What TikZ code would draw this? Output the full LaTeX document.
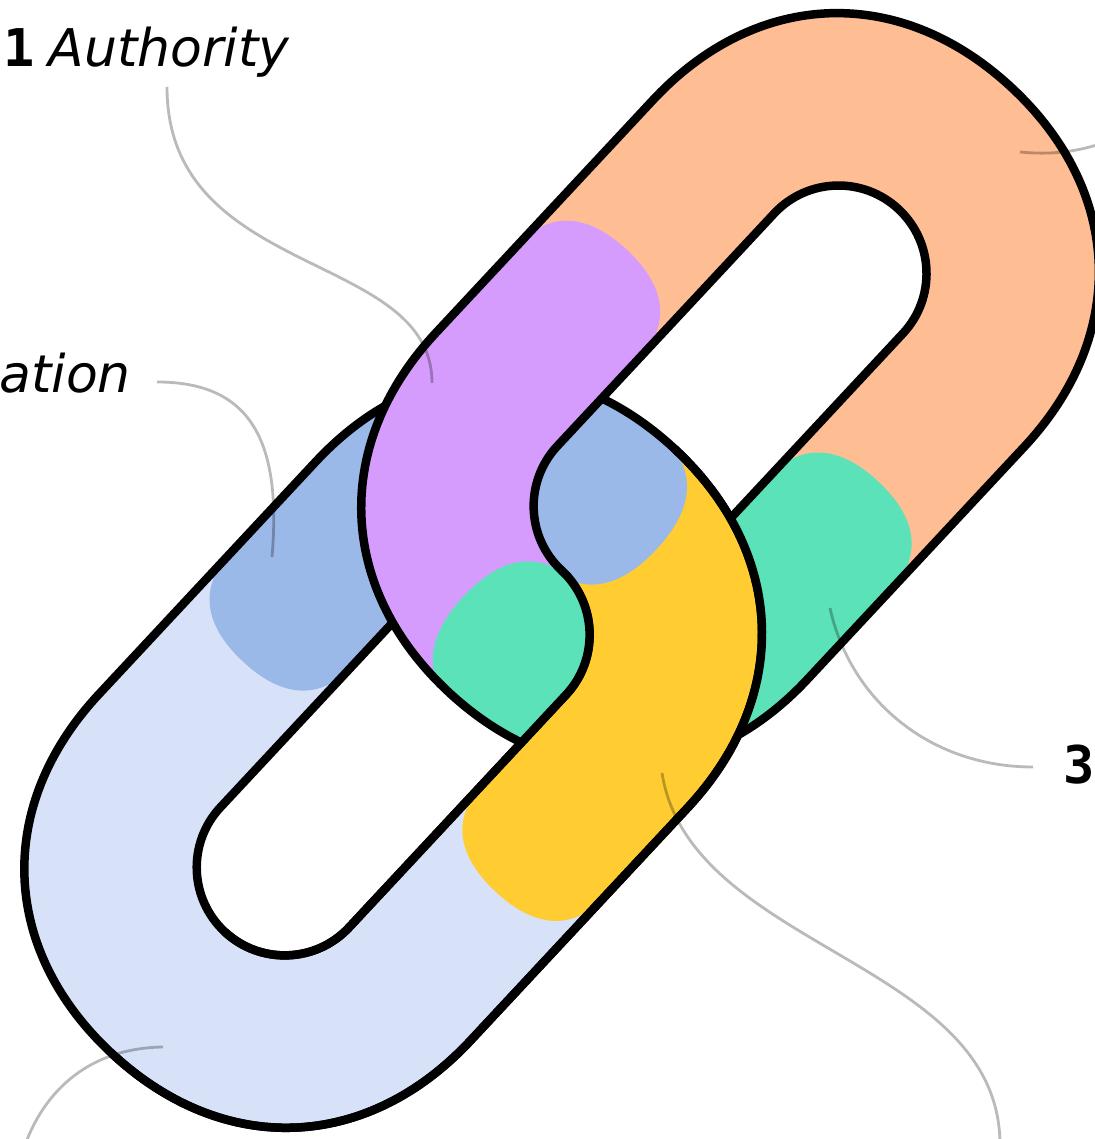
\documentclass[tikz,border=0pt]{standalone}
\usepackage{fontspec}
\newfontfamily\tagfont{DejaVu Sans}[ItalicFont={DejaVu Sans Oblique}]
\newfontfamily\numfont{DejaVu Sans Mono}[BoldFont={DejaVu Sans Mono Bold}]
\usepackage{tikz}
\usetikzlibrary{positioning}

\definecolor{linklight}{HTML}{D7E2F9}
\definecolor{linkblue}{HTML}{9BB9E8}
\definecolor{linkyellow}{HTML}{FFCD32}
\definecolor{linkorange}{HTML}{FFBD94}
\definecolor{linkpurple}{HTML}{D59CFD}
\definecolor{linkgreen}{HTML}{5CE2B8}

\tikzset{
	outline/.style={draw=black, line width=8.5pt, line join=round},
	leader/.style={draw=black, opacity=0.27, line width=2.8pt},
	tag/.style={font=\tagfont\fontsize{52}{60}\selectfont\itshape, inner sep=0pt},
	num/.style={font=\numfont\fontsize{52}{60}\selectfont\bfseries, inner sep=0pt}
}

% rounded bar from #1 to #2 along the chain, half width #3, corner handle #4
\newcommand{\capsule}[4]{(#1,0) .. controls (#1,-#4) and (#1+#3-#4,-#3) .. (#1+#3,-#3)
	-- (#2-#3,-#3) .. controls (#2-#3+#4,-#3) and (#2,-#4) .. (#2,0)
	.. controls (#2,#4) and (#2-#3+#4,#3) .. (#2-#3,#3)
	-- (#1+#3,#3) .. controls (#1+#3-#4,#3) and (#1,#4) .. (#1,0) -- cycle}
\newcommand{\capsuleback}[4]{(#1,0) .. controls (#1,#4) and (#1+#3-#4,#3) .. (#1+#3,#3)
	-- (#2-#3,#3) .. controls (#2-#3+#4,#3) and (#2,#4) .. (#2,0)
	.. controls (#2,-#4) and (#2-#3+#4,-#3) .. (#2-#3,-#3)
	-- (#1+#3,-#3) .. controls (#1+#3-#4,-#3) and (#1,-#4) .. (#1,0) -- cycle}

\newcommand{\upperlink}{%
	\begin{scope}[even odd rule]
		\clip \capsule{-200}{626}{254}{152.4} \capsuleback{-34}{460}{88}{48.6};
		\fill [linkorange] (-300,-300) rectangle (700,300);
		\fill [linkpurple] (175,254) .. controls (220.5,254) and (245,225) .. (245,171)
			.. controls (245,117) and (220.5,88) .. (175,88)
			-- (100,88) -- (100,-254) -- (-300,-254) -- (-300,300) -- (175,300) -- cycle;
		\fill [linkgreen] (177,-254) .. controls (222.5,-254) and (247,-225) .. (247,-171)
			.. controls (247,-117) and (222.5,-88) .. (177,-88)
			-- (-34,-88) -- (-34,-16) .. controls (-34,29.5) and (-64.1,54) .. (-120,54)
			.. controls (-175.9,54) and (-206,29.5) .. (-206,-16)
			-- (-206,-300) -- (177,-300) -- cycle;
	\end{scope}
	\draw [outline] \capsule{-200}{626}{254}{152.4} \capsule{-34}{460}{88}{48.6};
}
\newcommand{\lowerlink}{%
	\begin{scope}[even odd rule]
		\clip \capsule{-694}{132}{254}{152.4} \capsuleback{-528}{-34}{88}{48.6};
		\fill [linklight] (-800,-300) rectangle (200,300);
		\fill [linkyellow] (-244,-254) .. controls (-289.5,-254) and (-314,-225) .. (-314,-171)
			.. controls (-314,-117) and (-289.5,-88) .. (-244,-88)
			-- (-160,-88) -- (-160,300) -- (300,300) -- (300,-254) -- cycle;
		\fill [linkblue] (-248,254) .. controls (-293.5,254) and (-318,225) .. (-318,171)
			.. controls (-318,117) and (-293.5,88) .. (-248,88)
			-- (-40,88) -- (-40,15) .. controls (-40,-30.5) and (-9.9,-55) .. (46,-55)
			.. controls (101.9,-55) and (132,-30.5) .. (132,15)
			-- (132,300) -- (-248,300) -- cycle;
	\end{scope}
	\draw [outline] \capsule{-694}{132}{254}{152.4} \capsule{-528}{-34}{88}{48.6};
}

\begin{document}
\begin{tikzpicture}[x=1pt, y=1pt]
	\useasboundingbox (0,0) rectangle (1094,1139);
	\fill [white] (0,0) rectangle (1094,1139);

	\begin{scope}[shift={(584.8,593.4)}, rotate=47]
		\lowerlink
		% upper link: in front on its upper-left side, elsewhere only outside the lower one
		\begin{scope}
			\clip (-2000,0) -- (2000,0) -- (2000,2000) -- (-2000,2000) -- cycle
				\capsule{-526}{-36}{86}{47.5}
				(-2000,-2000) -- (2000,-2000) -- (2000,2000) -- (-2000,2000) -- cycle
				\capsuleback{-696}{134}{256}{153.6};
			\upperlink
		\end{scope}
		\begin{scope}
			\clip (-2000,-2000) rectangle (2000,0);
			\draw [outline] \capsule{-694}{132}{254}{152.4} \capsule{-528}{-34}{88}{48.6};
		\end{scope}
	\end{scope}

	\node (num1) [num, anchor=base west] at (3,1072) {1};
	\node (authority) [tag, base right=14pt of num1] {Authority};
	\node (ation) [tag, anchor=base east] at (131,746) {ation};
	\node (num3) [num, anchor=base west] at (1063,355) {3};

	\coordinate (authority-foot) at (167,1052);
	\coordinate (authority-tip) at (432,756);
	\coordinate (ation-foot) at (157,757);
	\coordinate (ation-tip) at (272,582);
	\coordinate (orange-tip) at (1020,987);
	\coordinate (orange-out) at (1100,995);
	\coordinate (num3-foot) at (1033,372);
	\coordinate (green-tip) at (830,531);
	\coordinate (yellow-tip) at (662,366);
	\coordinate (yellow-out) at (1000,-6);
	\coordinate (light-tip) at (163,92);
	\coordinate (light-out) at (25,-6);

	\draw [leader] (authority-foot) .. controls (167,859) and (432,889) .. (authority-tip);
	\draw [leader] (ation-foot) .. controls (250,757) and (282,699) .. (ation-tip);
	\draw [leader] (orange-tip) .. controls (1050,984) and (1075,987) .. (orange-out);
	\draw [leader] (num3-foot) .. controls (930,372) and (850,439) .. (green-tip);
	\draw [leader] (yellow-tip) .. controls (690,189) and (1000,179) .. (yellow-out);
	\draw [leader] (light-tip) .. controls (90,91) and (45,49) .. (light-out);
\end{tikzpicture}
\end{document}
